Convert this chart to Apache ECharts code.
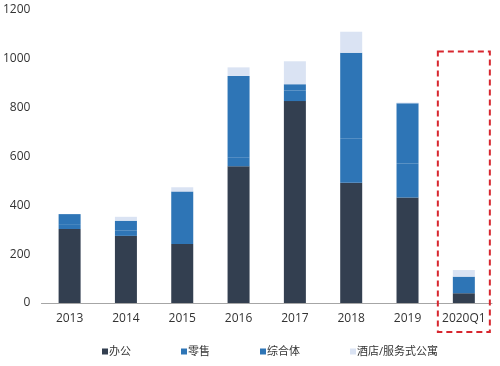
<!DOCTYPE html>
<html>
<head>
<meta charset="utf-8">
<script src="https://cdn.jsdelivr.net/npm/echarts@6/dist/echarts.min.js"></script>
<style>
html,body{margin:0;padding:0;background:#fff;}
#c{width:500px;height:366px;}
</style>
</head>
<body>
<div id="c"></div>
<script>
const categories = ['2013','2014','2015','2016','2017','2018','2019','2020Q1'];
const office = [303, 275, 242, 560, 827, 492, 432, 40];
const retail = [17, 21, 215, 37, 44, 183, 138, 68];
const complexUse = [44, 41, 0, 333, 25, 350, 248, 0];
const hotel = [0, 16, 17, 35, 94, 86, 3, 27];
const yTicks = [0, 200, 400, 600, 800, 1000, 1200];

const fontFamily = '"Open Sans", "Noto Sans CJK SC", sans-serif';
const chart = echarts.init(document.getElementById('c'));
const mk = (name, data, color) => ({
  name, type: 'bar', stack: 'total', data, barWidth: 22,
  itemStyle: { color }
});
chart.setOption({
  animation: false,
  textStyle: { fontFamily },
  grid: { left: 38, right: 8, top: 10, bottom: 63 },
  legend: {
    bottom: 4, left: 97,
    itemWidth: 6, itemHeight: 6, itemGap: 50,
    icon: 'rect',
    textStyle: { fontSize: 11, color: '#333', fontFamily, padding: [0,0,0,-4] },
    data: ['办公','零售','综合体','酒店/服务式公寓']
  },
  xAxis: {
    type: 'category', data: categories,
    axisLine: { lineStyle: { color: '#a6a6a6' } },
    axisTick: { lineStyle: { color: '#a6a6a6' }, length: 4 },
    axisLabel: { color: '#333', fontSize: 12, margin: 10, interval: 0 }
  },
  yAxis: {
    type: 'value', min: 0, max: 1200, interval: 200,
    splitLine: { show: false },
    axisLine: { show: false },
    axisTick: { show: false },
    axisLabel: {
      color: '#333', fontSize: 12, margin: 11,
      formatter: v => yTicks.includes(v) ? String(v) : ''
    }
  },
  series: [
    mk('办公', office, '#333F50'),
    mk('零售', retail, '#2E75B6'),
    mk('综合体', complexUse, '#2E75B6'),
    mk('酒店/服务式公寓', hotel, '#DAE3F3')
  ]
});

const cx = chart.convertToPixel({ xAxisIndex: 0 }, '2020Q1');
const yTop = chart.convertToPixel({ yAxisIndex: 0 }, 1030);
const yZero = chart.convertToPixel({ yAxisIndex: 0 }, 0);
chart.setOption({
  graphic: [{
    type: 'rect',
    shape: { x: cx - 26, y: yTop, width: 52, height: (yZero + 29) - yTop },
    style: { fill: 'none', stroke: '#D7262E', lineWidth: 2, lineDash: [6, 4] },
    z: 100
  }]
});
</script>
</body>
</html>
